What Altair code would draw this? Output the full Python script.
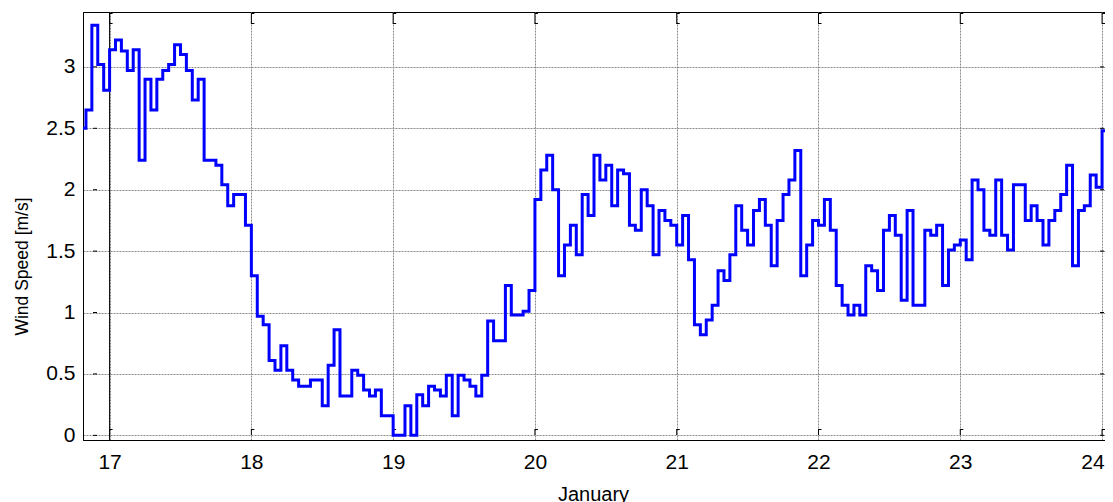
import altair as alt
import pandas as pd

# ---- data (hourly wind speed, m/s) ----
start_time = 16.8125
day16_tail = [2.50, 2.65, 3.34, 3.02, 2.81]          # 19:30, 20:00 .. 23:00
day16_hours = [19.5, 20, 21, 22, 23]
day17 = [3.14, 3.22, 3.13, 2.97, 3.14, 2.24, 2.90, 2.65, 2.90, 2.97, 3.02, 3.18,
         3.10, 2.97, 2.73, 2.90, 2.24, 2.24, 2.20, 2.04, 1.87, 1.96, 1.96, 1.71]
day18 = [1.30, 0.97, 0.90, 0.61, 0.53, 0.73, 0.53, 0.45, 0.40, 0.40, 0.45, 0.45,
         0.24, 0.57, 0.86, 0.32, 0.32, 0.53, 0.49, 0.37, 0.32, 0.37, 0.16, 0.16]
day19 = [0.00, 0.00, 0.24, 0.00, 0.33, 0.24, 0.40, 0.37, 0.32, 0.49, 0.16, 0.49,
         0.45, 0.40, 0.32, 0.49, 0.93, 0.77, 0.77, 1.22, 0.98, 0.98, 1.01, 1.18]
day20 = [1.92, 2.16, 2.28, 2.00, 1.30, 1.55, 1.71, 1.47, 1.96, 1.79, 2.28, 2.08,
         2.20, 1.87, 2.16, 2.13, 1.71, 1.67, 2.00, 1.87, 1.47, 1.83, 1.75, 1.71]
day21 = [1.55, 1.79, 1.43, 0.90, 0.82, 0.94, 1.06, 1.34, 1.26, 1.47, 1.87, 1.67,
         1.55, 1.83, 1.92, 1.71, 1.38, 1.75, 1.96, 2.08, 2.32, 1.30, 1.55, 1.75]
day22 = [1.71, 1.92, 1.67, 1.22, 1.06, 0.98, 1.06, 0.98, 1.38, 1.34, 1.18, 1.67,
         1.79, 1.63, 1.10, 1.83, 1.06, 1.06, 1.67, 1.63, 1.71, 1.22, 1.51, 1.55]
day23 = [1.59, 1.43, 2.08, 2.00, 1.67, 1.63, 2.08, 1.63, 1.51, 2.04, 2.04, 1.75,
         1.87, 1.75, 1.55, 1.75, 1.83, 1.96, 2.20, 1.38, 1.83, 1.87, 2.12, 2.02]
day24_head = [2.48]
end_time = 24.0207

x_ticks = [17, 18, 19, 20, 21, 22, 23, 24]
y_ticks = [0, 0.5, 1, 1.5, 2, 2.5, 3]
x_domain = [start_time, end_time]
y_domain = [-0.038, 3.447]

# ---- build table ----
times, speeds = [], []
for h, v in zip(day16_hours, day16_tail):
    times.append(16 + h / 24)
    speeds.append(v)
for day, vals in [(17, day17), (18, day18), (19, day19), (20, day20),
                  (21, day21), (22, day22), (23, day23), (24, day24_head)]:
    for h, v in enumerate(vals):
        times.append(day + h / 24)
        speeds.append(v)
times.append(end_time)
speeds.append(speeds[-1])
df = pd.DataFrame({"t": times, "ws": speeds})
xt = pd.DataFrame({"d": x_ticks})
yt = pd.DataFrame({"v": y_ticks})

FONT = "Liberation Sans"
xs = alt.Scale(domain=x_domain, nice=False, zero=False)
ys = alt.Scale(domain=y_domain, nice=False, zero=False)

line = alt.Chart(df).mark_line(
    interpolate="step-after", color="#0000ff", strokeWidth=3, clip=True
).encode(
    x=alt.X("t:Q", scale=xs, title="January",
            axis=alt.Axis(values=x_ticks, format="d", grid=True, ticks=False,
                          labelPadding=11, labelFontSize=21, labelFont=FONT,
                          labelFlush=6, labelFlushOffset=2,
                          titleFont=FONT, titleFontSize=20, titleFontWeight="normal",
                          titleX=510, titleY=60, titleBaseline="alphabetic",
                          titleAlign="center")),
    y=alt.Y("ws:Q", scale=ys, title="Wind Speed [m/s]",
            axis=alt.Axis(values=y_ticks, format="~g", grid=True, ticks=False,
                          labelPadding=8, labelFontSize=21, labelFont=FONT,
                          titleFont=FONT, titleFontSize=17.5, titleFontWeight="normal",
                          titleX=-61, titleY=254, titleBaseline="middle",
                          titleAlign="center", titleAngle=270)),
)

# dark vertical line at 17
rule17 = alt.Chart(xt[xt.d == 17]).mark_rule(color="black", strokeWidth=1).encode(
    x=alt.X("d:Q", scale=xs)
)

# inward ticks (secondary axes look)
left_ticks = alt.Chart(yt).mark_rule(color="black", strokeWidth=1).encode(
    y=alt.Y("v:Q", scale=ys), x=alt.value(10), x2=alt.value(14)
)
right_ticks = alt.Chart(yt).mark_rule(color="black", strokeWidth=1).encode(
    y=alt.Y("v:Q", scale=ys), x=alt.value(1017), x2=alt.value(1021)
)
top_ticks = alt.Chart(xt).mark_rule(color="black", strokeWidth=1).encode(
    x=alt.X("d:Q", scale=xs), y=alt.value(1), y2=alt.value(12)
)
top_stub1 = alt.Chart(xt).mark_rule(color="black", strokeWidth=1, x2Offset=3).encode(
    x=alt.X("d:Q", scale=xs), x2="d:Q", y=alt.value(1.5)
)
top_stub2 = alt.Chart(xt).mark_rule(color="black", strokeWidth=1, x2Offset=3).encode(
    x=alt.X("d:Q", scale=xs), x2="d:Q", y=alt.value(11.5)
)
bot_ticks = alt.Chart(xt).mark_rule(color="black", strokeWidth=1).encode(
    x=alt.X("d:Q", scale=xs), y=alt.value(417), y2=alt.value(423)
)
bot_stub = alt.Chart(xt).mark_rule(color="black", strokeWidth=1, x2Offset=3).encode(
    x=alt.X("d:Q", scale=xs), x2="d:Q", y=alt.value(417.5)
)

chart = alt.layer(
    rule17, left_ticks, right_ticks, top_ticks, top_stub1, top_stub2,
    bot_ticks, bot_stub, line
).properties(
    width=1022, height=428,
    autosize=alt.AutoSizeParams(type="none"),
    padding={"left": 75, "top": 4, "right": 0, "bottom": 62},
    background="white",
).configure_view(
    stroke="black", strokeWidth=1
).configure_axis(
    domainColor="black", domainWidth=1, labelColor="black", titleColor="black",
    gridColor="#8a8a8a", gridDash=[2, 1], gridWidth=1, gridOpacity=1,
)

chart.save("out.html", embed_options={"renderer": "svg", "actions": False})
